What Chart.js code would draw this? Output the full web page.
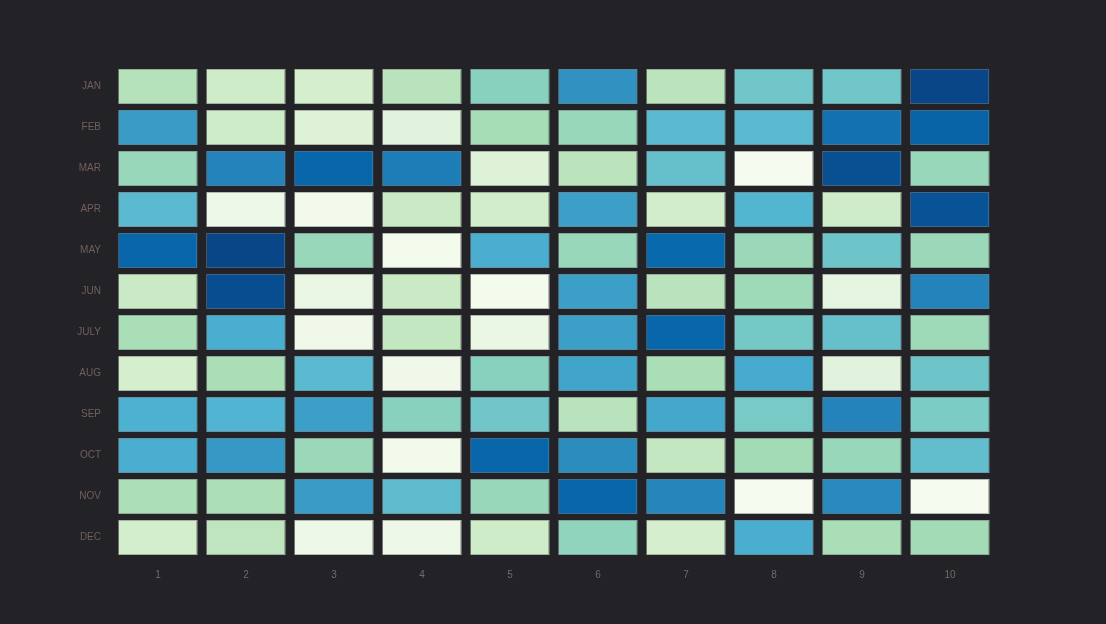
<!DOCTYPE html>
<html>
<head>
<meta charset="utf-8">
<script src="https://cdn.jsdelivr.net/npm/chart.js@4/dist/chart.umd.min.js"></script>
<style>
  html, body { margin: 0; padding: 0; background: #232226; }
  #wrap { width: 1106px; height: 624px; }
</style>
</head>
<body>
<div id="wrap"><canvas id="c" width="1106" height="624"></canvas></div>
<script>
// ---- data ----
const columns = ['1','2','3','4','5','6','7','8','9','10'];
const months = ['JAN','FEB','MAR','APR','MAY','JUN','JULY','AUG','SEP','OCT','NOV','DEC'];
const jan  = [33, 23, 20, 32, 46, 73, 31, 53, 53, 98];
const feb  = [70, 24, 14, 12, 38, 42, 59, 59, 84, 89];
const mar  = [42, 78, 88, 80, 14, 31, 56,  1, 95, 42];
const apr  = [59,  5,  3, 26, 22, 69, 22, 61, 24, 94];
const may  = [88, 98, 42,  2, 64, 42, 87, 41, 54, 41];
const jun  = [26, 96,  8, 26,  2, 69, 32, 40, 10, 78];
const jul  = [37, 64,  4, 28,  7, 69, 88, 52, 56, 40];
const aug  = [20, 37, 59,  4, 46, 67, 37, 65, 12, 54];
const sep  = [63, 62, 69, 46, 53, 32, 66, 51, 78, 50];
const oct  = [64, 71, 41,  3, 88, 75, 28, 39, 42, 57];
const nov  = [36, 36, 70, 58, 42, 88, 77,  1, 76,  1];
const dec  = [21, 30,  5,  5, 23, 44, 20, 64, 37, 39];
const rows = [jan, feb, mar, apr, may, jun, jul, aug, sep, oct, nov, dec];

// GnBu colour ramp
const ramp = ['#f7fcf0','#e0f3db','#ccebc5','#a8ddb5','#7bccc4','#4eb3d3','#2b8cbe','#0868ac','#084081'];
function hex2rgb(h){ return [1,3,5].map(i => parseInt(h.substr(i,2),16)); }
function colorFor(v){
  const t = Math.max(0, Math.min(1, v/100)) * (ramp.length-1);
  const i = Math.min(ramp.length-2, Math.floor(t));
  const f = t - i;
  const a = hex2rgb(ramp[i]), b = hex2rgb(ramp[i+1]);
  const c = a.map((x,k) => Math.round(x + (b[k]-x)*f));
  return `rgb(${c[0]},${c[1]},${c[2]})`;
}

const BG = '#232226';

const datasets = rows.map((r, i) => ({
  label: months[i],
  data: r.map(() => 1),
  backgroundColor: r.map(colorFor),
  borderColor: BG,
  borderWidth: {top: 3, bottom: 3, left: 0, right: 0},
  borderSkipped: false,
  inflateAmount: 0,
  barPercentage: 0.9,
  categoryPercentage: 1.0
}));

const outline = {
  id: 'outline',
  afterDatasetsDraw(chart) {
    const ctx = chart.ctx;
    ctx.save();
    ctx.strokeStyle = 'rgba(120,120,120,0.5)';
    ctx.lineWidth = 1;
    chart.data.datasets.forEach((ds, di) => {
      const meta = chart.getDatasetMeta(di);
      meta.data.forEach(el => {
        const p = el.getProps(['x','y','base','width'], true);
        const left = p.x - p.width/2;
        const top = Math.min(p.y, p.base) + 3;
        const bottom = Math.max(p.y, p.base) - 3;
        ctx.strokeRect(Math.round(left)+0.5, Math.round(top)+0.5, Math.round(p.width)-1, Math.round(bottom-top)-1);
      });
    });
    ctx.restore();
  }
};

const bgPlugin = {
  id: 'bg',
  beforeDraw(chart) {
    const ctx = chart.ctx;
    ctx.save();
    ctx.fillStyle = BG;
    ctx.fillRect(0, 0, chart.width, chart.height);
    ctx.restore();
  }
};

new Chart(document.getElementById('c'), {
  type: 'bar',
  data: { labels: columns, datasets },
  plugins: [bgPlugin, outline],
  options: {
    responsive: false,
    animation: false,
    layout: { padding: { top: 66, right: 112, bottom: 0, left: 0 } },
    plugins: { legend: { display: false }, tooltip: { enabled: false } },
    scales: {
      x: {
        type: 'category',
        stacked: true,
        grid: { display: false, drawTicks: false },
        border: { display: false },
        ticks: { color: '#6f6c6c', padding: 11, font: { family: 'Liberation Sans, Arial, sans-serif', size: 10 } },
        afterFit(scale) { scale.height = 66; }
      },
      y: {
        type: 'linear',
        stacked: true,
        min: 0,
        max: 12,
        reverse: true,
        grid: { display: false, drawTicks: false },
        border: { display: false },
        afterBuildTicks(scale) { scale.ticks = months.map((m, i) => ({ value: i + 0.5 })); },
        ticks: {
          color: '#735f5f',
          padding: 13,
          font: { family: 'Liberation Sans, Arial, sans-serif', size: 10 },
          callback: (v, idx) => months[idx]
        },
        afterFit(scale) { scale.width = 114; }
      }
    }
  }
});
</script>
</body>
</html>
